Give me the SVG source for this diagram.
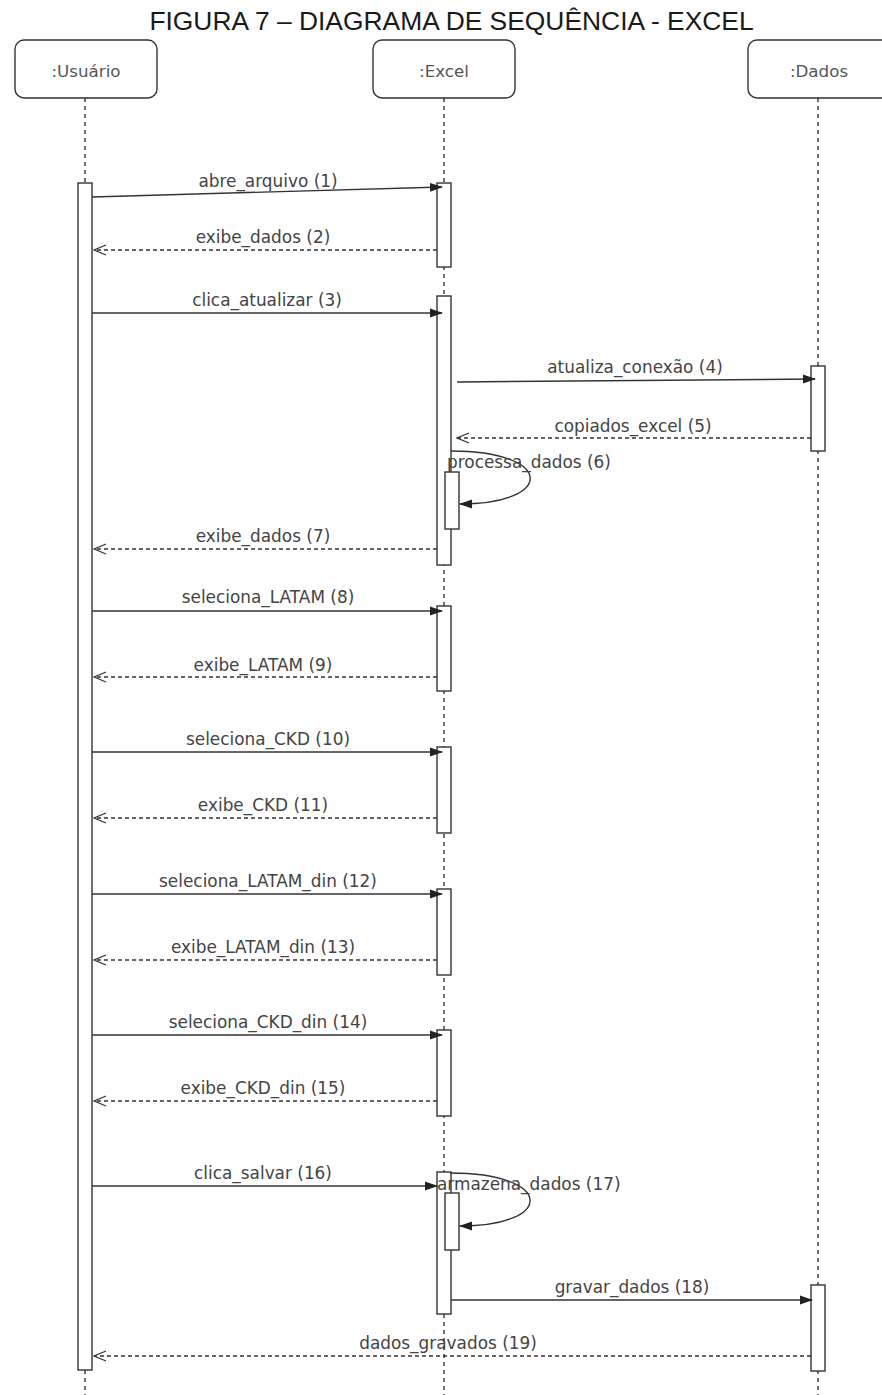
<svg xmlns="http://www.w3.org/2000/svg" width="882" height="1395" viewBox="0 0 882 1395">
<style>
.title{font-family:"Liberation Sans",Arial,sans-serif;font-size:26.4px;fill:#1a1a1a;text-anchor:middle}
.hdr{fill:#fff;stroke:#333;stroke-width:1.4}
.hdrt{font-family:"DejaVu Sans",Verdana,sans-serif;font-size:16.7px;fill:#555;text-anchor:middle}
.life{stroke:#333;stroke-width:1.4;stroke-dasharray:4 4;fill:none}
.bar{fill:#fff;stroke:#333;stroke-width:1.4}
.msg{stroke:#333;stroke-width:1.4;fill:none}
.ret{stroke:#333;stroke-width:1.4;fill:none;stroke-dasharray:4 3}
.lbl{font-family:"DejaVu Sans",Verdana,sans-serif;font-size:16.9px;fill:#444;text-anchor:middle}
.lbls{font-family:"DejaVu Sans",Verdana,sans-serif;font-size:16.9px;fill:#444;text-anchor:start}
</style>
<defs>
<marker id="fill" markerUnits="userSpaceOnUse" markerWidth="13" markerHeight="11" viewBox="0 0 13 11" refX="12" refY="5.5" orient="auto">
<path d="M0,1 L13,5.5 L0,10 Z" fill="#222"/>
</marker>
<marker id="open" markerUnits="userSpaceOnUse" markerWidth="14" markerHeight="12" viewBox="0 0 14 12" refX="13" refY="6" orient="auto">
<path d="M1,1 L13,6 L1,11" fill="none" stroke="#333" stroke-width="1.3"/>
</marker>
</defs>
<rect width="882" height="1395" fill="#fff"/>
<text class="title" x="451.5" y="30">FIGURA 7 – DIAGRAMA DE SEQUÊNCIA - EXCEL</text>

<g id="usuario">
<rect class="hdr" x="15" y="40" width="142" height="58" rx="9"/>
<text class="hdrt" x="86" y="77">:Usuário</text>
<line class="life" x1="85" y1="98" x2="85" y2="1395"/>
<rect class="bar" x="78" y="183" width="14" height="1187"/>
</g>

<g id="excel">
<rect class="hdr" x="373" y="40" width="142" height="58" rx="9"/>
<text class="hdrt" x="444" y="77">:Excel</text>
<line class="life" x1="444" y1="98" x2="444" y2="1395"/>
<rect class="bar" x="437" y="183" width="14" height="84"/>
<rect class="bar" x="437" y="296" width="14" height="269"/>
<rect class="bar" x="445" y="472" width="14" height="57"/>
<rect class="bar" x="437" y="606" width="14" height="85"/>
<rect class="bar" x="437" y="747" width="14" height="86"/>
<rect class="bar" x="437" y="889" width="14" height="86"/>
<rect class="bar" x="437" y="1030" width="14" height="86"/>
<rect class="bar" x="437" y="1172" width="14" height="142"/>
<rect class="bar" x="445" y="1193" width="14" height="57"/>
</g>

<g id="dados">
<rect class="hdr" x="748" y="40" width="142" height="58" rx="9"/>
<text class="hdrt" x="819" y="77">:Dados</text>
<line class="life" x1="818" y1="98" x2="818" y2="1395"/>
<rect class="bar" x="811" y="366" width="14" height="85"/>
<rect class="bar" x="811" y="1285" width="14" height="86"/>
</g>

<g id="connectors">
<line class="msg" x1="92" y1="197" x2="442" y2="187" marker-end="url(#fill)"/>
<text class="lbl" x="268" y="187">abre_arquivo (1)</text>

<line class="ret" x1="437" y1="250" x2="94" y2="250" marker-end="url(#open)"/>
<text class="lbl" x="263" y="243">exibe_dados (2)</text>

<line class="msg" x1="92" y1="313" x2="442" y2="313" marker-end="url(#fill)"/>
<text class="lbl" x="267" y="306">clica_atualizar (3)</text>

<line class="msg" x1="457" y1="382" x2="815" y2="379" marker-end="url(#fill)"/>
<text class="lbl" x="635" y="373">atualiza_conexão (4)</text>

<line class="ret" x1="811" y1="438" x2="457" y2="438" marker-end="url(#open)"/>
<text class="lbl" x="633" y="432">copiados_excel (5)</text>

<path class="msg" d="M451,451 C555,451 555,504 460,504" marker-end="url(#fill)"/>
<text class="lbls" x="447" y="468">processa_dados (6)</text>

<line class="ret" x1="437" y1="549" x2="94" y2="549" marker-end="url(#open)"/>
<text class="lbl" x="263" y="542">exibe_dados (7)</text>

<line class="msg" x1="92" y1="611" x2="442" y2="611" marker-end="url(#fill)"/>
<text class="lbl" x="268" y="603">seleciona_LATAM (8)</text>

<line class="ret" x1="437" y1="677" x2="94" y2="677" marker-end="url(#open)"/>
<text class="lbl" x="263" y="671">exibe_LATAM (9)</text>

<line class="msg" x1="92" y1="752" x2="442" y2="752" marker-end="url(#fill)"/>
<text class="lbl" x="268" y="745">seleciona_CKD (10)</text>

<line class="ret" x1="437" y1="818" x2="94" y2="818" marker-end="url(#open)"/>
<text class="lbl" x="263" y="811">exibe_CKD (11)</text>

<line class="msg" x1="92" y1="894" x2="442" y2="894" marker-end="url(#fill)"/>
<text class="lbl" x="268" y="887">seleciona_LATAM_din (12)</text>

<line class="ret" x1="437" y1="960" x2="94" y2="960" marker-end="url(#open)"/>
<text class="lbl" x="263" y="953">exibe_LATAM_din (13)</text>

<line class="msg" x1="92" y1="1035" x2="442" y2="1035" marker-end="url(#fill)"/>
<text class="lbl" x="268" y="1028">seleciona_CKD_din (14)</text>

<line class="ret" x1="437" y1="1101" x2="94" y2="1101" marker-end="url(#open)"/>
<text class="lbl" x="263" y="1094">exibe_CKD_din (15)</text>

<line class="msg" x1="92" y1="1186" x2="437" y2="1186" marker-end="url(#fill)"/>
<text class="lbl" x="263" y="1179">clica_salvar (16)</text>

<path class="msg" d="M450,1173 C555,1173 555,1226 460,1226" marker-end="url(#fill)"/>
<text class="lbls" x="437" y="1190">armazena_dados (17)</text>

<line class="msg" x1="451" y1="1300" x2="812" y2="1300" marker-end="url(#fill)"/>
<text class="lbl" x="632" y="1293">gravar_dados (18)</text>

<line class="ret" x1="811" y1="1356" x2="94" y2="1356" marker-end="url(#open)"/>
<text class="lbl" x="448" y="1349">dados_gravados (19)</text>
</g>
</svg>
